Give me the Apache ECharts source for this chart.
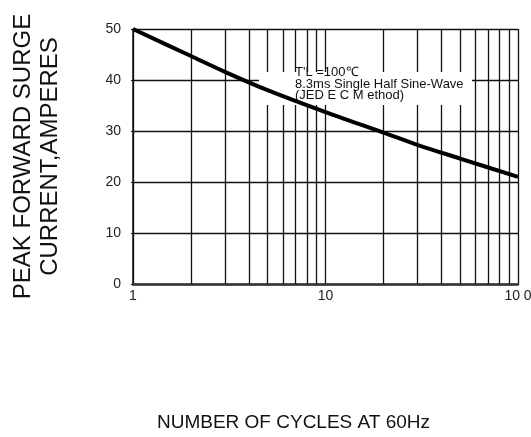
<!DOCTYPE html>
<html lang="en">
<head>
    <meta charset="UTF-8">
    <title>Peak forward surge current</title>
    <style>
        html, body {
            margin: 0;
            padding: 0;
            background: #fff;
        }
        #chart {
            width: 531px;
            height: 437px;
        }
    </style>
</head>
<body>
<div id='chart'></div>

<script src='https://cdn.jsdelivr.net/npm/echarts@6/dist/echarts.min.js'></script>
<script>
    // curve
    var cycles = [1, 2, 3, 5, 10, 20, 30, 50, 100];
    var amps = [50, 44.7, 41.6, 38.0, 33.7, 29.7, 27.3, 24.6, 21.0];
    // log grid lines between the decades
    var gridCycles = [2, 3, 4, 5, 6, 7, 8, 9, 20, 30, 40, 50, 60, 70, 80, 90];
    var xTickLabels = {1: '1', 10: '10', 100: '10 0'};
    var noteLines = ["T'L =100\u2103", '8.3ms Single Half Sine-Wave', '(JED E C M ethod)'];

    var font = "'Liberation Sans', Arial, sans-serif";
    var chart = echarts.init(document.getElementById('chart'));

    var curveData = cycles.map(function (c, i) {
        return [c, amps[i]];
    });

    var option = {
        animation: false,
        textStyle: {
            fontFamily: font
        },
        grid: {
            left: 133,
            right: 13,
            top: 29,
            bottom: 153,
            outerBoundsMode: 'none',
            containLabel: false
        },
        xAxis: {
            type: 'log',
            logBase: 10,
            min: 1,
            max: 100,
            name: 'NUMBER OF CYCLES AT 60Hz',
            nameLocation: 'middle',
            nameGap: 129,
            nameTextStyle: {
                fontSize: 19,
                color: '#111',
                fontFamily: font,
                padding: [0, 64, 0, 0]
            },
            axisLine: {
                lineStyle: {
                    color: '#333',
                    width: 2.5
                }
            },
            axisTick: {show: false},
            axisLabel: {
                fontSize: 14,
                color: '#222',
                margin: 5,
                formatter: function (v) {
                    return xTickLabels[Math.round(v)] || '';
                }
            },
            splitLine: {
                show: true,
                lineStyle: {
                    color: '#111',
                    width: 1.3
                }
            }
        },
        yAxis: {
            type: 'value',
            min: 0,
            max: 50,
            interval: 10,
            name: 'PEAK FORWARD SURGE\nCURRENT,AMPERES',
            nameLocation: 'middle',
            nameRotate: 90,
            nameGap: 69,
            nameTextStyle: {
                fontSize: 24,
                lineHeight: 27,
                color: '#111',
                fontFamily: font
            },
            axisLine: {
                show: true,
                lineStyle: {
                    color: '#111',
                    width: 1.5
                }
            },
            axisTick: {
                show: true,
                length: 2,
                lineStyle: {color: '#111'}
            },
            axisLabel: {
                fontSize: 14,
                color: '#222',
                margin: 12
            },
            splitLine: {
                show: true,
                lineStyle: {
                    color: '#111',
                    width: 1.3
                }
            }
        },
        graphic: [
            {
                type: 'rect',
                shape: {x: 259, y: 72, width: 213, height: 33},
                style: {fill: '#fff'},
                z: 20,
                silent: true
            },
            {
                type: 'text',
                left: 295,
                top: 66,
                z: 21,
                silent: true,
                style: {
                    text: noteLines.join('\n'),
                    fontSize: 13,
                    lineHeight: 11.5,
                    fill: '#111',
                    fontFamily: font
                }
            }
        ],
        series: [
            {
                name: 'grid',
                type: 'line',
                data: [],
                z: 1,
                silent: true,
                markLine: {
                    silent: true,
                    z: 1,
                    symbol: 'none',
                    label: {show: false},
                    lineStyle: {
                        type: 'solid',
                        color: '#111',
                        width: 1.3
                    },
                    data: gridCycles.map(function (v) {
                        return {xAxis: v};
                    })
                }
            },
            {
                name: 'surge',
                type: 'line',
                data: curveData,
                smooth: 0.3,
                showSymbol: false,
                z: 30,
                lineStyle: {
                    color: '#000',
                    width: 4
                }
            }
        ]
    };
    chart.setOption(option);
</script>
</body>
</html>
